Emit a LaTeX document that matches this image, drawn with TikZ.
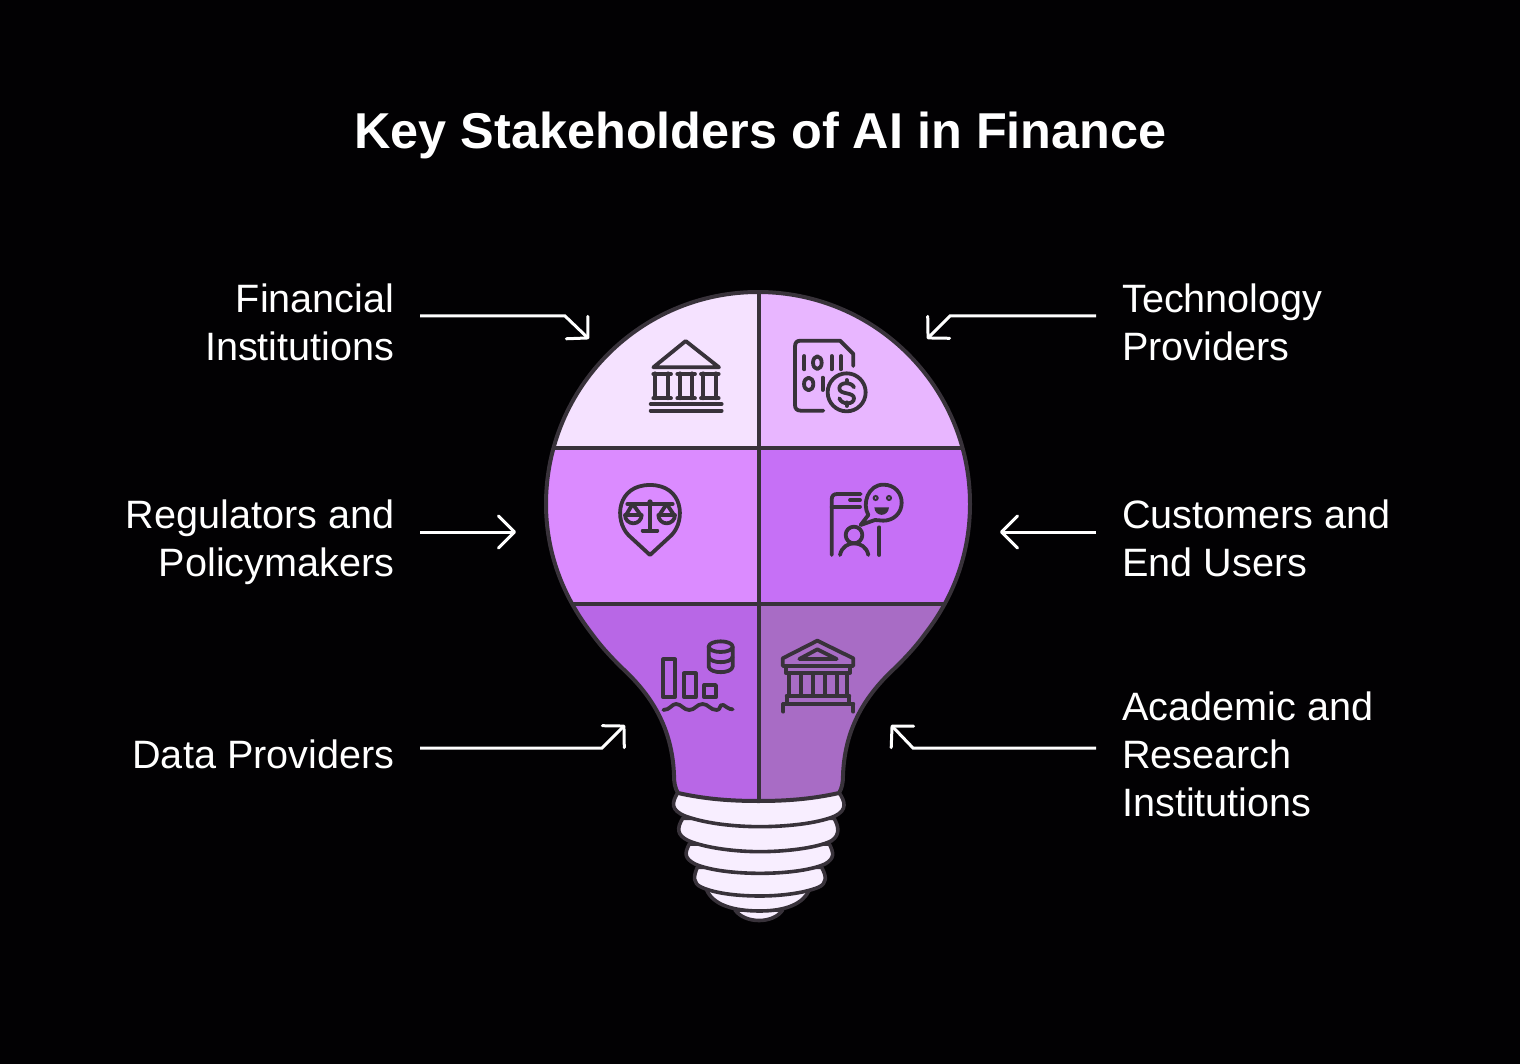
\documentclass[tikz,border=0pt]{standalone}
\usepackage{fontspec}
\setmainfont{Liberation Sans}
\usetikzlibrary{arrows.meta}
\definecolor{bgc}{HTML}{020103}
\definecolor{ink}{HTML}{38323A}
\definecolor{cTL}{HTML}{F5E2FF}
\definecolor{cTR}{HTML}{E8B6FF}
\definecolor{cML}{HTML}{DB8BFF}
\definecolor{cMR}{HTML}{C670F6}
\definecolor{cBL}{HTML}{B867E6}
\definecolor{cBR}{HTML}{A86CC5}
\definecolor{cBase}{HTML}{F8EEFF}
\newcommand{\glasspath}{(546,504) .. controls (546,551.6) and (562.4,595.6) .. (591.3,633)
 .. controls (600,645) and (608,654) .. (621,667)
 .. controls (646,690) and (672,722) .. (674,775)
 .. controls (674,783) and (675,788) .. (678,793)
 .. controls (705,799) and (730,801) .. (758.5,801)
 .. controls (787,801) and (812,799) .. (839,793)
 .. controls (842,788) and (843,783) .. (843,775)
 .. controls (845,722) and (871,690) .. (896,667)
 .. controls (909,654) and (917,645) .. (925.7,633)
 .. controls (954.6,595.6) and (970,551.6) .. (970,504)
 .. controls (970,387) and (875.6,292) .. (758,292)
 .. controls (640.9,292) and (546,387) .. (546,504) -- cycle}
\tikzset{
 x=1pt,y=-1pt,
 label/.style={text=white,inner sep=0pt,font=\fontsize{39.6}{48}\selectfont},
 lblL/.style={label,align=right,anchor=north east},
 lblR/.style={label,align=left,anchor=north west},
 pointer/.style={draw=white,line width=3pt,line join=miter},
 hd/.style={-{Straight Barb[length=15pt,width=31pt,line width=3pt,round]}},
 hdb/.style={-{Straight Barb[length=16pt,width=32pt,line width=3pt,round]}},
 outline/.style={draw=ink,line width=4pt,line join=round},
 band/.style={fill=cBase,draw=ink,line width=3.6pt,line join=round},
 icon/.style={draw=ink,line width=3.8pt,line cap=round,line join=round},
 zoomA/.style={shift={(540,280)},x=0.33333pt,y=-0.33333pt},
 zoomB/.style={shift={(560,590)},x=0.33333pt,y=-0.33333pt},
}
\begin{document}
\begin{tikzpicture}
\useasboundingbox (0,0) rectangle (1520,1064);
\fill[bgc] (0,0) rectangle (1520,1064);

\node[text=white,inner sep=0pt,font=\fontsize{50.4}{60}\selectfont\bfseries] (title) at (760.5,135.5) {Key Stakeholders of AI in Finance};

% labels
\node[lblL] (fin) at (394.5,283.5) {Financial\\Institutions};
\node[lblL] (reg) at (394.5,499.5) {Regulators and\\Policymakers};
\node[lblL] (dat) at (394.5,739.5) {Data Providers};
\node[lblR] (tec) at (1122,283.5) {Technology\\Providers};
\node[lblR] (cus) at (1122,499.5) {Customers and\\End Users};
\node[lblR] (aca) at (1122,691.5) {Academic and\\Research\\Institutions};

% pointers
\coordinate (a1s) at (420,316); \coordinate (a1m) at (565,316); \coordinate (a1e) at (589,339);
\coordinate (a2s) at (420,532); \coordinate (a2e) at (516,532);
\coordinate (a3s) at (420,748); \coordinate (a3m) at (602,748); \coordinate (a3e) at (625,725);
\coordinate (a4s) at (1096,316); \coordinate (a4m) at (950,316); \coordinate (a4e) at (927,339);
\coordinate (a5s) at (1096,532); \coordinate (a5e) at (1000,532);
\coordinate (a6s) at (1096,748); \coordinate (a6m) at (913,748); \coordinate (a6e) at (891,725);
\draw[pointer,hd] (a1s) -- (a1m) -- (a1e);
\draw[pointer,hdb] (a2s) -- (a2e);
\draw[pointer,hd] (a3s) -- (a3m) -- (a3e);
\draw[pointer,hd] (a4s) -- (a4m) -- (a4e);
\draw[pointer,hdb] (a5s) -- (a5e);
\draw[pointer,hd] (a6s) -- (a6m) -- (a6e);

% screw base
\begin{scope}[zoomB]
\draw[band] (525,960) .. controls (555,1002) and (640,1002) .. (668,960) -- cycle;
\draw[band] (440,900) .. controls (460,945) and (520,963) .. (600,963) .. controls (680,963) and (730,940) .. (748,900) -- cycle;
\draw[band] (412,832) .. controls (400,860) and (398,880) .. (425,892) .. controls (470,912) and (540,918) .. (600,918) .. controls (660,918) and (730,910) .. (775,892) .. controls (802,880) and (800,860) .. (785,832) -- cycle;
\draw[band] (388,762) .. controls (373,790) and (373,805) .. (405,822) .. controls (450,842) and (530,850) .. (600,850) .. controls (670,850) and (750,842) .. (795,822) .. controls (824,805) and (822,790) .. (808,762) -- cycle;
\draw[band] (368,685) .. controls (350,715) and (350,735) .. (385,752) .. controls (440,775) and (530,785) .. (600,785) .. controls (670,785) and (770,775) .. (815,752) .. controls (840,735) and (837,710) .. (822,685) -- cycle;
\draw[band] (355,605) .. controls (333,640) and (333,660) .. (375,678) .. controls (440,702) and (530,710) .. (600,710) .. controls (670,710) and (770,702) .. (825,678) .. controls (862,660) and (857,635) .. (835,605) -- cycle;
\end{scope}

% glass panels
\begin{scope}
\clip \glasspath;
\fill[cTL] (540,285) rectangle (758.5,448);
\fill[cTR] (758.5,285) rectangle (980,448);
\fill[cML] (540,448) rectangle (758.5,604);
\fill[cMR] (758.5,448) rectangle (980,604);
\fill[cBL] (540,604) rectangle (758.5,810);
\fill[cBR] (758.5,604) rectangle (980,810);
\draw[outline] (540,448) -- (980,448);
\draw[outline] (540,604) -- (980,604);
\draw[outline] (758.5,285) -- (758.5,810);
\end{scope}
\draw[outline] \glasspath;

% icons, upper
\begin{scope}[zoomA]
% bank
\draw[icon] (340,262) -- (437,183) -- (537,262) -- cycle;
\foreach \l/\r in {345/385,420/456,490/527}{
 \draw[icon] (\l,280) -- (\l,355); \draw[icon] (\r,280) -- (\r,355);}
\foreach \l/\r in {340/393,412/465,483/536}{
 \draw[icon] (\l,282) -- (\r,282); \draw[icon] (\l,355) -- (\r,355);}
\draw[icon] (332,372) -- (545,372);
\draw[icon] (332,392) -- (545,392);
% document
\draw[icon] (850,392) -- (782,392) .. controls (770,392) and (765,385) .. (765,375) -- (765,200) .. controls (765,188) and (770,182) .. (782,182) -- (900,182) -- (940,222) -- (940,258);
\draw[icon] (793,228) -- (793,268);
\draw[icon] (832,248) ellipse[x radius=13,y radius=19];
\draw[icon] (875,228) -- (875,268);
\draw[icon] (903,228) -- (903,268);
\draw[icon] (806,312) ellipse[x radius=14,y radius=19];
\draw[icon] (848,293) -- (848,330);
\draw[icon] (920,337) circle[radius=57];
\draw[icon] (942,322) .. controls (935,305) and (898,305) .. (898,325) .. controls (898,345) and (942,335) .. (942,355) .. controls (942,375) and (905,375) .. (898,355);
\draw[icon] (920,300) -- (920,310);
\draw[icon] (920,367) -- (920,378);
% scales pin
\draw[icon] (330,825) -- (265,765) .. controls (222,720) and (230,615) .. (330,615) .. controls (430,615) and (438,720) .. (395,765) -- cycle;
\draw[icon] (262,672) -- (398,672);
\draw[icon] (330,668) -- (330,750);
\draw[icon] (308,752) -- (352,752);
\fill[ink] (330,666) circle[radius=8];
\draw[icon] (255,705) -- (305,705) arc[start angle=0,end angle=180,radius=25] -- cycle;
\draw[icon] (355,705) -- (405,705) arc[start angle=0,end angle=180,radius=25] -- cycle;
\draw[icon] (258,705) -- (278,672) -- (302,705);
\draw[icon] (358,705) -- (380,672) -- (402,705);
% phone user
\draw[icon] (875,825) -- (875,660) .. controls (875,648) and (880,642) .. (892,642) -- (962,642);
\draw[icon] (875,680) -- (960,680);
\draw[icon] (930,660) -- (960,660);
\draw[icon] (1018,742) -- (1018,825);
\draw[icon] (942,765) circle[radius=25];
\draw[icon] (900,825) .. controls (905,800) and (925,790) .. (942,790) .. controls (960,790) and (980,800) .. (985,825);
\draw[icon] (985,705) .. controls (965,670) and (985,614) .. (1030,614) .. controls (1065,614) and (1085,640) .. (1085,668) .. controls (1085,700) and (1060,722) .. (1030,722) -- (1005,720) -- (962,735) -- cycle;
\draw[draw=ink,line width=2pt] (1007,654) circle[radius=6];
\draw[draw=ink,line width=2pt] (1047,654) circle[radius=6];
\fill[ink] (1003,682) -- (1047,682) .. controls (1045,712) and (1005,712) .. (1003,682) -- cycle;
\end{scope}

% icons, lower
\begin{scope}[zoomB]
% bars and cylinder
\draw[icon] (310,208) rectangle (345,322);
\draw[icon] (372,250) rectangle (407,322);
\draw[icon] (433,285) rectangle (468,322);
\draw[icon] (310,360) .. controls (330,360) and (335,342) .. (348,342) .. controls (365,342) and (370,360) .. (388,360) .. controls (405,360) and (410,342) .. (428,342) .. controls (445,342) and (450,360) .. (470,360) .. controls (485,360) and (475,342) .. (490,345) .. controls (500,350) and (505,358) .. (518,358);
\draw[icon] (482,170) ellipse[x radius=36,y radius=16];
\draw[icon] (446,170) -- (446,230) .. controls (450,252) and (514,252) .. (518,230) -- (518,170);
\draw[icon] (446,200) .. controls (450,222) and (514,222) .. (518,200);
% academy
\draw[icon] (668,228) -- (668,205) -- (772,152) -- (880,205) -- (880,228) -- cycle;
\draw[icon] (718,207) -- (772,178) -- (830,207) -- cycle;
\draw[icon] (677,228) -- (677,248) -- (870,248) -- (870,228);
\foreach \c in {687,722,758,795,830,860}{\draw[icon] (\c,250) -- (\c,315);}
\draw[icon] (680,318) -- (868,318);
\draw[icon] (680,318) -- (680,342);
\draw[icon] (868,318) -- (868,342);
\draw[icon] (670,342) -- (880,342);
\draw[icon] (670,342) -- (670,365);
\draw[icon] (880,342) -- (880,365);
\end{scope}
\end{tikzpicture}
\end{document}
